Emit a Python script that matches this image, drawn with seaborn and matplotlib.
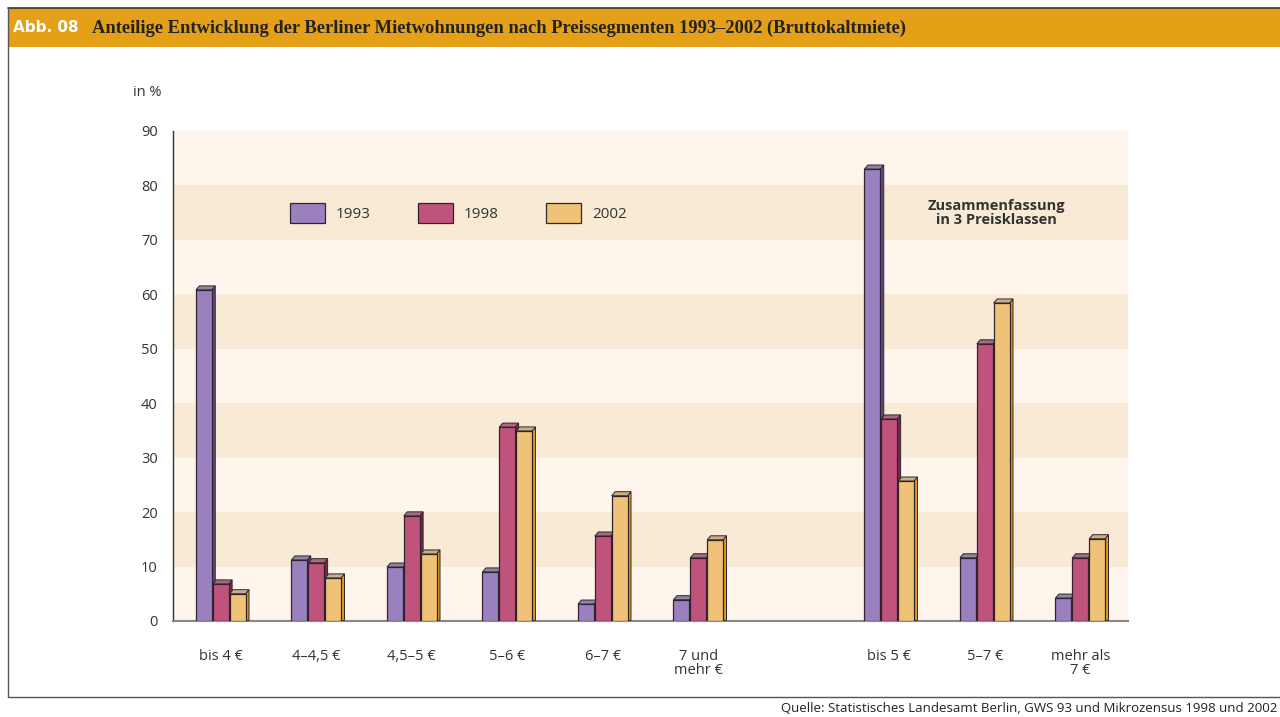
import matplotlib
matplotlib.use("Agg")
import matplotlib.pyplot as plt
import seaborn as sns
import numpy as np
import pandas as pd
from matplotlib.patches import Polygon, Rectangle, Patch
from matplotlib.lines import Line2D

# data (percent shares)
categories = ["bis 4 €", "4–4,5 €", "4,5–5 €", "5–6 €", "6–7 €", "7 und\nmehr €",
              " ", "bis 5 €", "5–7 €", "mehr als\n7 €"]
years = ["1993", "1998", "2002"]
share_1993 = [60.8, 11.2, 9.9, 9.0, 3.1, 3.9, np.nan, 83.0, 11.6, 4.2]
share_1998 = [6.8, 10.7, 19.3, 35.6, 15.6, 11.6, np.nan, 37.1, 50.9, 11.6]
share_2002 = [5.0, 7.9, 12.3, 34.9, 23.0, 14.9, np.nan, 25.7, 58.4, 15.1]
y_ticks = [0, 10, 20, 30, 40, 50, 60, 70, 80, 90]

colors = {"1993": "#9A80BE", "1998": "#C0537C", "2002": "#EFC277"}
side_colors = {"1993": "#5B4880", "1998": "#7E2549", "2002": "#E49B16"}
top_colors = {"1993": "#8D86A0", "1998": "#A86A80", "2002": "#C9AE86"}

rows = []
for yr, vals in zip(years, [share_1993, share_1998, share_2002]):
    for cat, v in zip(categories, vals):
        if not np.isnan(v):
            rows.append({"Kategorie": cat, "Jahr": yr, "Anteil": v})
df = pd.DataFrame(rows)

sns.set_theme(style="white")
plt.rcParams["font.family"] = ["Open Sans", "DejaVu Sans"]

fig = plt.figure(figsize=(12.8, 7.17), dpi=100)
ax = fig.add_axes([173 / 1280, 1 - 621 / 717, 955 / 1280, 490 / 717])

# alternating background bands
band_light, band_dark = "#FEF6EC", "#F9EAD6"
ax.set_facecolor(band_light)
for i in range(len(y_ticks) - 1):
    if i % 2 == 1:
        ax.axhspan(y_ticks[i], y_ticks[i + 1], color=band_dark, lw=0, zorder=0)

n_before = len(ax.patches)
sns.barplot(data=df, x="Kategorie", y="Anteil", hue="Jahr", order=categories,
            hue_order=years, palette=colors, width=0.53, gap=0.06,
            edgecolor="#2E2430", linewidth=0.9, saturation=1, errorbar=None,
            legend=False, ax=ax, zorder=3)
bars = [p for p in ax.patches[n_before:] if p.get_height() > 0]

# pseudo-3D side and top faces derived from the bar patches
dx, dy = 0.036, 0.75
for p in bars:
    x0, w, h = p.get_x(), p.get_width(), p.get_height()
    fc = matplotlib.colors.to_hex(p.get_facecolor())
    yr = [k for k, c in colors.items() if c.lower() == fc.lower()]
    yr = yr[0] if yr else "1993"
    side = Polygon([(x0 + w, 0), (x0 + w + dx, dy * 0.2), (x0 + w + dx, h + dy), (x0 + w, h)],
                   closed=True, fc=side_colors[yr], ec="#2E2430", lw=0.7, zorder=2.9)
    top = Polygon([(x0, h), (x0 + dx, h + dy), (x0 + w + dx, h + dy), (x0 + w, h)],
                  closed=True, fc=top_colors[yr], ec="#2E2430", lw=0.7, zorder=2.9)
    ax.add_patch(side)
    ax.add_patch(top)

ax.set_ylim(0, 90)
ax.set_xlim(-0.5, len(categories) - 0.5)
ax.set_yticks(y_ticks)
ax.set_xticks(range(len(categories)))
ax.set_xticklabels(categories, fontsize=10.5, color="#333333", linespacing=0.95)
ax.set_xticks(np.arange(-0.5, len(categories), 1), minor=True)
ax.tick_params(axis="x", which="major", length=0, pad=20)
ax.tick_params(axis="x", which="minor", length=5, color="#666666", width=1, direction="out")
ax.tick_params(axis="y", length=5, color="#333333", width=1, direction="out",
               labelsize=10.5, labelcolor="#333333", pad=6)
ax.set_xlabel("")
ax.set_ylabel("")
for s in ["top", "right"]:
    ax.spines[s].set_visible(False)
ax.spines["left"].set_color("#333333")
ax.spines["left"].set_linewidth(1)
ax.spines["bottom"].set_color("#888888")
ax.spines["bottom"].set_linewidth(1.5)
ax.grid(False)

handles = [Patch(facecolor=colors[y], edgecolor="#2E2430", linewidth=0.9, label=y) for y in years]
ax.legend(handles=handles, loc="center left", bbox_to_anchor=(0.108, 0.833), ncol=3,
          frameon=False, fontsize=11, handlelength=2.3, handleheight=1.6,
          handletextpad=0.7, columnspacing=3.1, labelcolor="#333333")

ax.text(0.862, 0.832, "Zusammenfassung\nin 3 Preisklassen", transform=ax.transAxes,
        ha="center", va="center", fontsize=10.5, fontweight="bold", color="#333333",
        linespacing=1.0)

fig.text(133 / 1280, 1 - 92 / 717, "in %", fontsize=10.5, color="#333333", va="center")

# header band and frame
fig.patches.append(Rectangle((8 / 1280, 1 - 47 / 717), 1, 39 / 717, transform=fig.transFigure,
                             fc="#E4A016", ec="none", zorder=0))
fig.add_artist(Line2D([8 / 1280, 1], [1 - 8 / 717, 1 - 8 / 717], color="#333333", lw=1.2))
fig.add_artist(Line2D([8 / 1280, 8 / 1280], [1 - 697 / 717, 1 - 8 / 717], color="#555555", lw=1.0))
fig.add_artist(Line2D([8 / 1280, 1], [1 - 697 / 717, 1 - 697 / 717], color="#555555", lw=1.0))
fig.text(13 / 1280, 1 - 28 / 717, "Abb. 08", fontsize=11, fontweight="bold", color="white",
         va="center", family=["Liberation Sans Narrow", "DejaVu Sans"])
fig.text(92 / 1280, 1 - 28 / 717,
         "Anteilige Entwicklung der Berliner Mietwohnungen nach Preissegmenten 1993–2002 (Bruttokaltmiete)",
         fontsize=13.3, fontweight="bold", color="#222222", va="center",
         family=["Liberation Serif", "DejaVu Serif"])
fig.text(1277 / 1280, 1 - 709 / 717,
         "Quelle: Statistisches Landesamt Berlin, GWS 93 und Mikrozensus 1998 und 2002",
         fontsize=9.5, color="#222222", va="center", ha="right")

fig.savefig("out.png", dpi=100)
